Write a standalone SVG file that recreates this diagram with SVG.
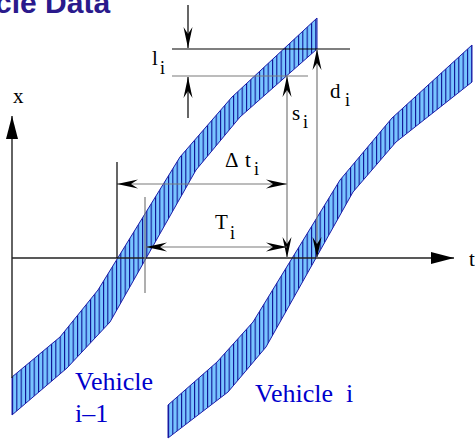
<svg xmlns="http://www.w3.org/2000/svg" width="475" height="440" viewBox="0 0 475 440">
<style>
.band{stroke:#1c1ca8;stroke-width:1;stroke-linejoin:round}
.blk{stroke:#000;stroke-width:1.2;fill:none}
.gry{stroke:#7a7a7a;stroke-width:1.2;fill:none}
.axis{stroke:#222;stroke-width:1.4;fill:none}
.dim{marker-end:url(#dimArrow)}
.dim2{marker-start:url(#dimArrow);marker-end:url(#dimArrow)}
.math{font-family:"Liberation Serif","Times New Roman",serif;font-size:21px;fill:#000}
.sub{font-family:"Liberation Serif","Times New Roman",serif;font-size:18px;fill:#000}
.veh{font-family:"Liberation Serif","Times New Roman",serif;font-size:26px;fill:#0000cc}
.title{font-family:"Liberation Sans",Arial,sans-serif;font-weight:bold;font-size:30px;fill:#2a1a8c}
</style>
<defs>
<pattern id="hatch" patternUnits="userSpaceOnUse" x="12" y="0" width="4.333" height="20">
<rect width="4.333" height="20" fill="#78c4ff"/>
<line x1="0.5" y1="0" x2="0.5" y2="20" stroke="#0a0a90" stroke-width="1.1"/>
</pattern>
<marker id="dimArrow" viewBox="-22 -5 23 10" refX="0" refY="0" markerWidth="23" markerHeight="10" markerUnits="userSpaceOnUse" orient="auto-start-reverse">
<path d="M0,0 L-21,-4.5 L-14,0 L-21,4.5 Z" fill="#000"/>
</marker>
<marker id="axArrow" viewBox="-24 -7 25 14" refX="0" refY="0" markerWidth="25" markerHeight="14" markerUnits="userSpaceOnUse" orient="auto">
<path d="M0,0 L-23,-6 L-23,6 Z" fill="#000"/>
</marker>
</defs>

<text class="title" x="-5" y="13">cle Data</text>

<g id="vehicle-i-1">
<polygon class="band" fill="url(#hatch)" points="12,377 60,337 98,290 180,157 232,97 317,18 317,49 240,117 196,170 110,322 67,368 12,415"/>
<text class="veh" x="75" y="390">Vehicle</text>
<text class="veh" x="75" y="422">i–1</text>
</g>

<g id="vehicle-i">
<polygon class="band" fill="url(#hatch)" points="168,405 217,362 253,322 340,180 392,118 472,45 472,82 396,142 353,192 266,347 228,392 168,438"/>
<text class="veh" x="255" y="402" xml:space="preserve">Vehicle  i</text>
</g>

<g id="connectors">
<line class="axis" x1="12" y1="378" x2="12" y2="116" marker-end="url(#axArrow)"/>
<line class="axis" x1="12" y1="258" x2="454" y2="258" marker-end="url(#axArrow)"/>
<line class="blk" x1="172" y1="49" x2="350" y2="49"/>
<line class="gry" x1="172" y1="76" x2="308" y2="76"/>
<line class="blk dim" x1="188" y1="5" x2="188" y2="48"/>
<line class="blk dim" x1="188" y1="118" x2="188" y2="77"/>
<line class="gry dim2" x1="317" y1="49" x2="317" y2="258"/>
<line class="gry dim2" x1="287" y1="76" x2="287" y2="258"/>
<line class="gry dim2" x1="117" y1="184" x2="287" y2="184"/>
<line class="blk" x1="117" y1="162" x2="117" y2="258"/>
<line class="gry dim2" x1="146" y1="247" x2="287" y2="247"/>
<line class="gry" x1="145" y1="197" x2="145" y2="293"/>
</g>

<g id="labels">
<text class="math" x="13" y="103">x</text>
<text class="math" x="469" y="266">t</text>
<text class="math" x="152" y="65">l</text><text class="sub" x="160" y="74">i</text>
<text class="math" x="330" y="98">d</text><text class="sub" x="345" y="106">i</text>
<text class="math" x="292" y="120">s</text><text class="sub" x="303" y="128">i</text>
<text class="math" x="225" y="167">Δ</text><text class="math" x="245" y="167">t</text><text class="sub" x="254" y="175">i</text>
<text class="math" x="215" y="229">T</text><text class="sub" x="230" y="239">i</text>
</g>
</svg>
